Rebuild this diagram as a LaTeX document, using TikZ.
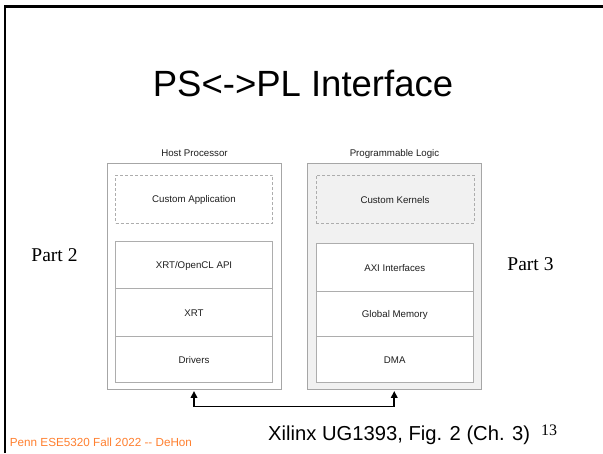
\documentclass[tikz,border=0pt]{standalone}
\usepackage{fontspec}
\setmainfont{Liberation Serif}
\setsansfont{Liberation Sans}
\usetikzlibrary{arrows.meta,fit,calc}
\definecolor{boxline}{HTML}{ADADAD}
\definecolor{outerline}{HTML}{A6A6A6}
\definecolor{plfill}{HTML}{F1F1F1}
\definecolor{labeltext}{HTML}{1E1E1E}
\definecolor{footorange}{RGB}{255,128,48}
\begin{document}
\begin{tikzpicture}[x=1pt,y=-1pt,
  boxtext/.style={font=\sffamily\fontsize{9.7}{11}\selectfont,text=labeltext,yshift=-1pt},
  outerbox/.style={draw=outerline,line width=0.9pt,inner sep=0pt},
  dashbox/.style={draw=boxline,dashed,dash pattern=on 3pt off 2pt,line width=0.8pt,inner sep=0pt},
  layerbox/.style={draw=boxline,fill=white,line width=0.8pt,inner sep=0pt},
  grouptitle/.style={font=\sffamily\fontsize{9.7}{11}\selectfont,text=labeltext,anchor=base},
  partlabel/.style={font=\rmfamily\fontsize{19.5}{22}\selectfont,anchor=base},
  link/.style={line width=1.8pt,{Triangle[length=7pt,width=6.5pt]}-{Triangle[length=7pt,width=6.5pt]},
    shorten <=1.5pt,shorten >=1.5pt}]
\useasboundingbox (0,0) rectangle (603,453);
\fill[white] (0,0) rectangle (603,453);

% slide frame
\draw[line width=2.4pt] (5,453) -- (5,6.5) -- (603,6.5);

% title
\node[font=\sffamily\fontsize{36.5}{42}\selectfont,anchor=base] (title) at (303,96.7) {PS<->PL Interface};

% host processor column
\node[outerbox,fit={(107.5,163)(281.5,389)}] (host) {};
\node[grouptitle] (hosttitle) at (194.5,156) {Host Processor};
\node[dashbox,fit={(115.5,175)(272.5,223)},label={[boxtext]center:Custom Application}] (app) {};
\node[layerbox,fit={(115.5,241.5)(272.5,288.5)},label={[boxtext]center:XRT/OpenCL API}] (api) {};
\node[layerbox,fit={(115.5,288.5)(272.5,336.5)},label={[boxtext]center:XRT}] (xrt) {};
\node[layerbox,fit={(115.5,336.5)(272.5,382)},label={[boxtext]center:Drivers}] (drv) {};

% programmable logic column
\node[outerbox,fill=plfill,fit={(307.5,163)(481,389)}] (pl) {};
\node[grouptitle] (pltitle) at (394.5,156) {Programmable Logic};
\node[dashbox,fit={(316,175)(474,223)},label={[boxtext]center:Custom Kernels}] (kern) {};
\node[layerbox,fit={(316.5,243)(473,291.5)},label={[boxtext]center:AXI Interfaces}] (axi) {};
\node[layerbox,fit={(316.5,291.5)(473,336.5)},label={[boxtext]center:Global Memory}] (gmem) {};
\node[layerbox,fit={(316.5,336.5)(473,382)},label={[boxtext]center:DMA}] (dma) {};

% side labels
\node[partlabel] (part2) at (54.5,261) {Part 2};
\node[partlabel] (part3) at (530.5,270.7) {Part 3};

% host <-> PL link
\draw[link] ([xshift=-0.5pt]host.south) -- ++(0,17) -| (pl.south);

% footer
\node[font=\sffamily\fontsize{11.7}{14}\selectfont,text=footorange,anchor=base west,inner sep=0pt] (foot) at (9.7,446) {Penn ESE5320 Fall 2022 -{}- DeHon};
\node[font=\sffamily\fontsize{20.2}{24}\selectfont,anchor=base west,inner sep=0pt] (source) at (268,440) {Xilinx UG1393, Fig. 2 (Ch. 3)};
\node[font=\rmfamily\fontsize{16}{19}\selectfont,anchor=base west,inner sep=0pt] (pagenum) at (541,435) {13};
\end{tikzpicture}
\end{document}
